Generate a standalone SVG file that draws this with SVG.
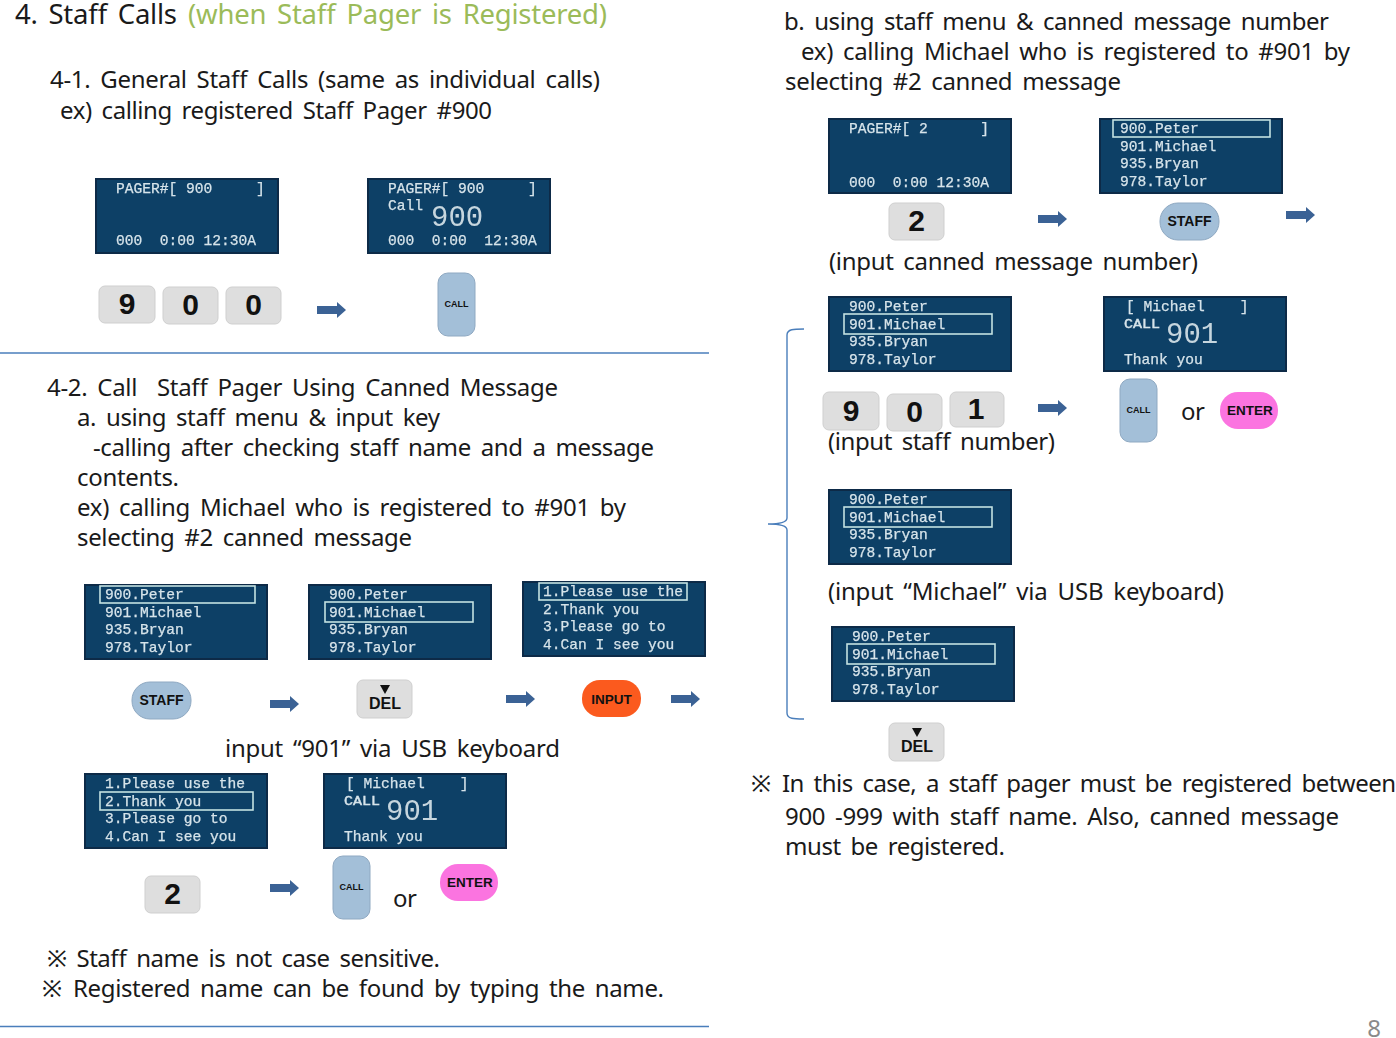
<svg xmlns="http://www.w3.org/2000/svg" width="1396" height="1038" viewBox="0 0 1396 1038">
<style>
text{font-family:"Noto Sans","Noto Sans CJK KR",sans-serif;fill:#1a1a1a}
.b{font-size:24px;word-spacing:4px;white-space:pre}
.t{font-size:27.500px;word-spacing:4px}
.g{fill:#9bbb59}
.scr{fill:#0e3f66;stroke:#0b2a47;stroke-width:2}
.m text{font-family:"Liberation Mono",monospace;font-size:14.600px;fill:#d6e4ea;white-space:pre;stroke:#d6e4ea;stroke-width:.25}
.m text.big{font-size:29px;fill:#c6d6de;stroke:none}
.m text.sm{font-size:12.500px;stroke-width:.4}
.hl{fill:none;stroke:#c4e2e2;stroke-width:1.6}
.key{fill:#dedede;stroke:#cfcfcf;stroke-width:1}
.kt{font-family:"Liberation Sans",sans-serif;font-weight:700;font-size:30px;fill:#111;text-anchor:middle}
.lb{font-family:"Liberation Sans",sans-serif;font-weight:700;font-size:14px;fill:#111;text-anchor:middle}
.lb2{font-size:13.500px}
.blue{fill:#a3bfd8;stroke:#8fa9c2;stroke-width:1}
.sep{stroke:#4a7ebb;stroke-width:1.4;fill:none}
.arr{fill:#3b6295}
</style>
<defs>
<filter id="soft"><feGaussianBlur stdDeviation="0.45"/></filter>
<polygon id="arrow" points="0,-4 20,-4 20,-8 29,0 20,8 20,4 0,4"/>
<g id="staffList" class="m" filter="url(#soft)">
<rect class="scr" x="1" y="1" width="182" height="74"/>
<text x="21" y="15">900.Peter</text><text x="21" y="32.500">901.Michael</text><text x="21" y="50">935.Bryan</text><text x="21" y="67.500">978.Taylor</text>
</g>
<g id="msgList" class="m" filter="url(#soft)">
<rect class="scr" x="1" y="1" width="182" height="74"/>
<text x="21" y="15">1.Please use the</text><text x="21" y="32.500">2.Thank you</text><text x="21" y="50">3.Please go to</text><text x="21" y="67.500">4.Can I see you</text>
</g>
<g id="michael" class="m" filter="url(#soft)">
<rect class="scr" x="1" y="1" width="182" height="74"/>
<text x="23" y="15">[ Michael    ]</text><text class="sm" x="21" y="32" textLength="36" lengthAdjust="spacingAndGlyphs">CALL</text><text x="21" y="67.500">Thank you</text>
<text class="big" x="63" y="47">901</text>
</g>
<g id="kCall"><rect class="blue" x="0" y="0" width="37" height="63" rx="10"/><text class="lb" style="font-size:9px" x="18.500" y="34">CALL</text></g>
<g id="kStaff"><rect class="blue" x="0" y="0" width="59" height="37" rx="18"/><text class="lb" x="29.500" y="23">STAFF</text></g>
<g id="kEnter"><rect fill="#fb74e0" x="0" y="0" width="58" height="37" rx="18"/><text class="lb lb2" x="30" y="23">ENTER</text></g>
<g id="kDel"><rect class="key" x="0" y="0" width="55" height="38" rx="6"/><polygon points="23,5 33,5 28,14" fill="#111"/><text class="lb" style="font-size:16px" x="28" y="28.500">DEL</text></g>
</defs>

<g id="texts-left">
<text class="t" x="15" y="24" textLength="162">4. Staff Calls</text>
<text class="t g" x="188" y="24" textLength="419">(when Staff Pager is Registered)</text>
<text class="b" x="50" y="88" textLength="550">4-1. General Staff Calls (same as individual calls)</text>
<text class="b" x="60" y="119" textLength="432">ex) calling registered Staff Pager #900</text>
<text class="b" x="47" y="396" textLength="511">4-2. Call  Staff Pager Using Canned Message</text>
<text class="b" x="77" y="426" textLength="363">a. using staff menu &amp; input key</text>
<text class="b" x="93" y="456" textLength="561">-calling after checking staff name and a message</text>
<text class="b" x="77" y="486" textLength="102">contents.</text>
<text class="b" x="77" y="516" textLength="549">ex) calling Michael who is registered to #901 by</text>
<text class="b" x="77" y="546" textLength="335">selecting #2 canned message</text>
<text class="b" x="225" y="757" textLength="335">input “901” via USB keyboard</text>
<text class="b" x="393" y="907" textLength="24">or</text>
<text class="b" x="47" y="967" textLength="393">※ Staff name is not case sensitive.</text>
<text class="b" x="42" y="997">※</text>
<text class="b" x="73" y="997" textLength="591">Registered name can be found by typing the name.</text>
</g>
<g id="texts-right">
<text class="b" x="784" y="30" textLength="545">b. using staff menu &amp; canned message number</text>
<text class="b" x="801" y="60" textLength="549">ex) calling Michael who is registered to #901 by</text>
<text class="b" x="785" y="90" textLength="336">selecting #2 canned message</text>
<text class="b" x="829" y="270" textLength="369">(input canned message number)</text>
<text class="b" x="828" y="450" textLength="227">(input staff number)</text>
<text class="b" x="1181" y="420" textLength="24">or</text>
<text class="b" x="828" y="600" textLength="396">(input “Michael” via USB keyboard)</text>
<text class="b" x="751" y="792">※</text>
<text class="b" x="782" y="792" textLength="614">In this case, a staff pager must be registered between</text>
<text class="b" x="785" y="825" textLength="554">900 -999 with staff name. Also, canned message</text>
<text class="b" x="785" y="855" textLength="220">must be registered.</text>
<text x="1374" y="1037" text-anchor="middle" style="font-size:24px;fill:#8a8a8a">8</text>
</g>

<g id="lcd-a" class="m" transform="translate(95,178)" filter="url(#soft)"><rect class="scr" x="1" y="1" width="182" height="74"/><text x="21" y="15">PAGER#[ 900     ]</text><text x="21" y="67">000  0:00 12:30A</text></g>
<g id="lcd-b" class="m" transform="translate(367,178)" filter="url(#soft)"><rect class="scr" x="1" y="1" width="182" height="74"/><text x="21" y="15">PAGER#[ 900     ]</text><text x="21" y="32">Call</text><text class="big" x="64" y="48">900</text><text x="21" y="67">000  0:00  12:30A</text></g>
<g id="lcd-c" transform="translate(84,584)"><use href="#staffList"/><rect class="hl" x="16" y="2" width="155" height="17"/></g>
<g id="lcd-d" transform="translate(308,584)"><use href="#staffList"/><rect class="hl" x="17" y="18" width="148" height="20"/></g>
<g id="lcd-e" transform="translate(522,581)"><use href="#msgList"/><rect class="hl" x="17" y="2" width="148" height="17"/></g>
<g id="lcd-f" transform="translate(84,773)"><use href="#msgList"/><rect class="hl" x="16" y="19" width="153" height="18"/></g>
<g id="lcd-g" transform="translate(323,773)"><use href="#michael"/></g>
<g id="lcd-h" class="m" transform="translate(828,118)" filter="url(#soft)"><rect class="scr" x="1" y="1" width="182" height="74"/><text x="21" y="15">PAGER#[ 2      ]</text><text x="21" y="69">000  0:00 12:30A</text></g>
<g id="lcd-i" transform="translate(1099,118)"><use href="#staffList"/><rect class="hl" x="14" y="2" width="157" height="17"/></g>
<g id="lcd-j" transform="translate(828,296)"><use href="#staffList"/><rect class="hl" x="16" y="18" width="148" height="20"/></g>
<g id="lcd-k" transform="translate(1103,296)"><use href="#michael"/></g>
<g id="lcd-l" transform="translate(828,489)"><use href="#staffList"/><rect class="hl" x="16" y="18" width="148" height="20"/></g>
<g id="lcd-m" transform="translate(831,626)"><use href="#staffList"/><rect class="hl" x="16" y="18" width="148" height="20"/></g>

<g id="key-9a"><rect class="key" x="99" y="286" width="56" height="37" rx="6"/><text class="kt" x="127" y="314">9</text></g>
<g id="key-0a"><rect class="key" x="163" y="287" width="55" height="37" rx="6"/><text class="kt" x="190.500" y="315">0</text></g>
<g id="key-0b"><rect class="key" x="226" y="287" width="55" height="37" rx="6"/><text class="kt" x="253.500" y="315">0</text></g>
<g id="key-call-a" transform="translate(438,273)"><use href="#kCall"/></g>
<g id="key-staff-a" transform="translate(132,682)"><use href="#kStaff"/></g>
<g id="key-del-a" transform="translate(357,680)"><use href="#kDel"/></g>
<g id="key-input"><rect fill="#fb5a1e" x="582" y="680" width="59" height="37" rx="18"/><text class="lb lb2" x="611.500" y="704">INPUT</text></g>
<g id="key-2a"><rect class="key" x="145" y="876" width="55" height="37" rx="6"/><text class="kt" x="172.500" y="904">2</text></g>
<g id="key-call-b" transform="translate(333,856)"><use href="#kCall"/></g>
<g id="key-enter-a" transform="translate(440,864)"><use href="#kEnter"/></g>
<g id="key-2b"><rect class="key" x="889" y="203" width="55" height="37" rx="6"/><text class="kt" x="916.500" y="231">2</text></g>
<g id="key-staff-b" transform="translate(1160,203)"><use href="#kStaff"/></g>
<g id="key-9b"><rect class="key" x="823" y="392" width="56" height="38" rx="6"/><text class="kt" x="851" y="421">9</text></g>
<g id="key-0c"><rect class="key" x="887" y="394" width="55" height="37" rx="6"/><text class="kt" x="914.500" y="422">0</text></g>
<g id="key-1"><rect class="key" x="950" y="392" width="54" height="35" rx="6"/><text class="kt" x="976" y="419">1</text></g>
<g id="key-call-c" transform="translate(1120,379)"><use href="#kCall"/></g>
<g id="key-enter-b" transform="translate(1220,392)"><use href="#kEnter"/></g>
<g id="key-del-b" transform="translate(889,723)"><use href="#kDel"/></g>

<g id="connectors">
<line class="sep" x1="0" y1="353" x2="709" y2="353"/>
<line class="sep" x1="0" y1="1026.500" x2="709" y2="1026.500"/>
<path class="sep" d="M804,329 C794,329 787,329 787,335 L787,518 C787,522 782,524 768,524 C782,524 787,526 787,530 L787,713 C787,719 794,719 804,719"/>
<g class="arr">
<use href="#arrow" x="317" y="310"/>
<use href="#arrow" x="270" y="704"/>
<use href="#arrow" x="506" y="699"/>
<use href="#arrow" x="671" y="699"/>
<use href="#arrow" x="270" y="888"/>
<use href="#arrow" x="1038" y="219"/>
<use href="#arrow" x="1286" y="215"/>
<use href="#arrow" x="1038" y="408"/>
</g>
</g>
</svg>
